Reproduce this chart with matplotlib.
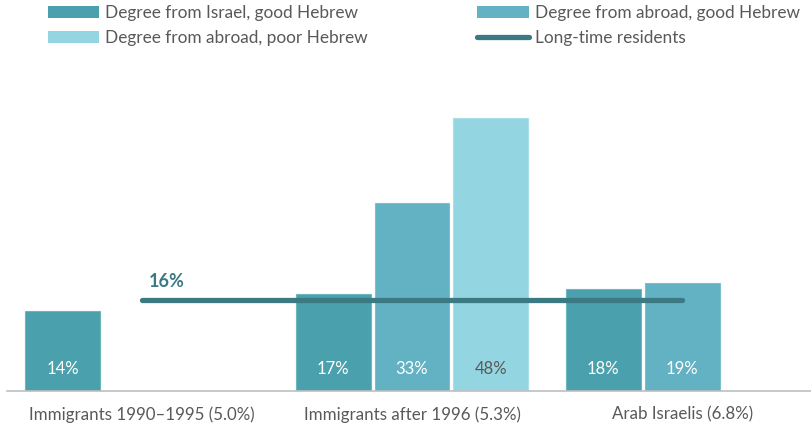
import numpy as np
import matplotlib
matplotlib.use('Agg')
import matplotlib.pyplot as plt
from matplotlib.patches import Patch
from matplotlib.lines import Line2D

## ::: Data ::: ##
categories = ['Immigrants 1990\u20131995 (5.0%)', 'Immigrants after 1996 (5.3%)', 'Arab Israelis (6.8%)']
series_names = ['Degree from Israel, good Hebrew', 'Degree from abroad, good Hebrew',
                'Degree from abroad, poor Hebrew']
israel_good = [14, 17, 18]
abroad_good = [None, 33, 19]
abroad_poor = [None, 48, None]
residents_name = 'Long-time residents'
residents = 16

## ::: Style ::: ##
bar_colors = ['#4AA0AC', '#62B2C4', '#93D6E2']
edge_colors = ['#6CB6C0', '#7CC0CF', '#A8DFE8']
label_colors = ['white', 'white', '#595959']
line_color = '#3B7A83'
text_color = '#595959'

plt.rcParams['font.family'] = ['Lato', 'DejaVu Sans']

fig = plt.figure(figsize=(8.11, 4.29), dpi=100)
ax = fig.add_axes([6.5 / 811, 38 / 429, 811 / 811, 331 / 429])

x = np.arange(len(categories))
step = 0.292
width = 0.277

for i, values in enumerate([israel_good, abroad_good, abroad_poor]):
    for j, v in enumerate(values):
        if v is None:
            continue
        xpos = x[j] + (i - 1) * step
        ax.bar(xpos, v, width=width, color=bar_colors[i], edgecolor=edge_colors[i],
               linewidth=0.8, zorder=2)
        ax.annotate(f'{v}%', (xpos, 0), xytext=(0, 15.5), textcoords='offset points',
                    ha='center', va='center', fontsize=12, color=label_colors[i], zorder=4)

# -> Long-time residents reference line, drawn across the categories
ax.plot([x[0], x[-1]], [residents, residents], color=line_color, linewidth=3.8,
        solid_capstyle='round', zorder=3)
ax.annotate(f'{residents}%', (x[0], residents), xytext=(5, 13), textcoords='offset points',
            ha='left', va='center', fontsize=13, fontweight='bold', color=line_color)

ax.set_xlim(-0.5, 2.5)
ax.set_ylim(0, 58.2)
ax.set_xticks(x)
ax.set_xticklabels(categories, fontsize=12.2, color=text_color)
ax.tick_params(axis='x', length=0, pad=11)
ax.set_yticks([])
for side in ['top', 'right', 'left']:
    ax.spines[side].set_visible(False)
ax.spines['bottom'].set_color('#BFBFBF')
ax.spines['bottom'].set_linewidth(1.2)

## ::: Legend ::: ##
handles = [
    Patch(facecolor=bar_colors[0], label=series_names[0]),
    Patch(facecolor=bar_colors[2], label=series_names[2]),
    Patch(facecolor=bar_colors[1], label=series_names[1]),
    Line2D([0], [0], color=line_color, linewidth=3.8, solid_capstyle='round', label=residents_name),
]
leg = fig.legend(handles=handles, ncol=2, loc='upper left', bbox_to_anchor=(46 / 811, 1 - 3 / 429),
                 frameon=False, fontsize=12.4, handlelength=3.0, handleheight=0.7,
                 handletextpad=0.35, columnspacing=6.35, labelspacing=0.55,
                 borderaxespad=0, borderpad=0.1)
for t in leg.get_texts():
    t.set_color(text_color)

plt.savefig('out.png', dpi=100)
